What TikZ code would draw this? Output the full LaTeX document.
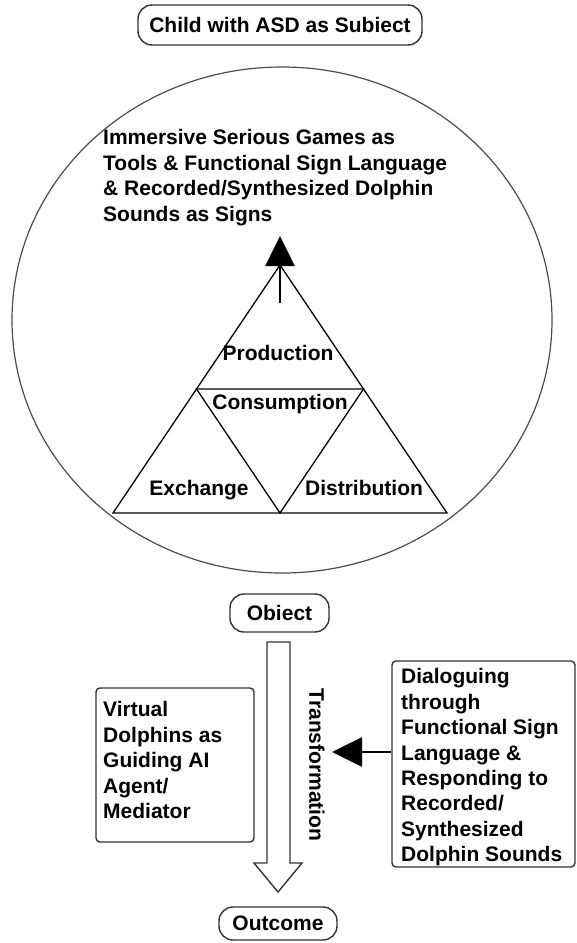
\documentclass[tikz,border=0pt]{standalone}
\usepackage{fontspec}
\setmainfont{Liberation Sans}
\usetikzlibrary{arrows.meta}
\begin{document}
\begin{tikzpicture}[x=1pt,y=-1pt,
  lbl/.style={font=\fontsize{21}{25.4}\selectfont\bfseries, inner sep=0pt},
  pill/.style={draw=black!80, line width=1.4pt, rounded corners=14pt, lbl},
  panel/.style={draw=black!80, line width=1.4pt, rounded corners=4pt},
  thinline/.style={line width=1.3pt, line join=miter},
  bigarrow/.style={line width=2.6pt, -{Triangle[length=30pt,width=29pt]}}
]
\useasboundingbox (0,0) rectangle (576,943);
\fill[white] (0,0) rectangle (576,943);

% subject
\node[pill, minimum width=284pt, minimum height=40pt] (subj) at (280,25) {Child with ASD as Subiect};

% big circle
\draw[draw=black!70, line width=1.2pt] (282,320) ellipse [x radius=270pt, y radius=253pt];

\node[lbl, align=left, anchor=north west] (tools) at (103,129.5)
  {Immersive Serious Games as\\Tools \& Functional Sign Language\\\& Recorded/Synthesized Dolphin\\Sounds as Signs};

% triangle
\coordinate (A) at (280,265);
\coordinate (B) at (113,513);
\coordinate (C) at (447,513);
\coordinate (AB) at (196.5,389);
\coordinate (AC) at (363.5,389);
\coordinate (BC) at (280,513);
\draw[thinline] (A) -- (B) -- (C) -- cycle;
\draw[thinline] (AB) -- (AC) -- (BC) -- cycle;
\node[lbl, anchor=base] (prod) at (278,360.5) {Production};
\node[lbl, anchor=base] (cons) at (280,409.5) {Consumption};
\node[lbl, anchor=base] (exch) at (199,495.5) {Exchange};
\node[lbl, anchor=base] (dist) at (364,495.5) {Distribution};
\coordinate (up0) at (280,303);
\coordinate (up1) at (280,236);
\draw[bigarrow] (up0) -- (up1);

% object / transformation / outcome
\node[pill, minimum width=99pt, minimum height=38pt] (obj) at (279.5,613) {Obiect};
\draw[draw=black!80, line width=1.4pt, line join=miter]
  (267,642) -- (290,642) -- (290,863) -- (302,863) -- (278,892) -- (254,863) -- (267,863) -- cycle;
\node[lbl, rotate=-90] (trans) at (317,765) {Transformation};
\node[pill, minimum width=118pt, minimum height=33pt] (out) at (278,923.5) {Outcome};

% mediator box
\node[panel, minimum width=158pt, minimum height=154pt] (virtbox) at (175,765) {};
\node[lbl, align=left, anchor=north west] (virt) at (103,701.5)
  {Virtual\\Dolphins as\\Guiding AI\\Agent/\\Mediator};

% dialogue box
\node[panel, minimum width=183pt, minimum height=206pt] (dialbox) at (483.5,764) {};
\node[lbl, align=left, anchor=north west] (dial) at (401,668.5)
  {Dialoguing\\through\\Functional Sign\\Language \&\\Responding to\\Recorded/\\Synthesized\\Dolphin Sounds};
\coordinate (tin) at (332,752);
\draw[bigarrow] (tin -| dialbox.west) -- (tin);
\end{tikzpicture}
\end{document}
